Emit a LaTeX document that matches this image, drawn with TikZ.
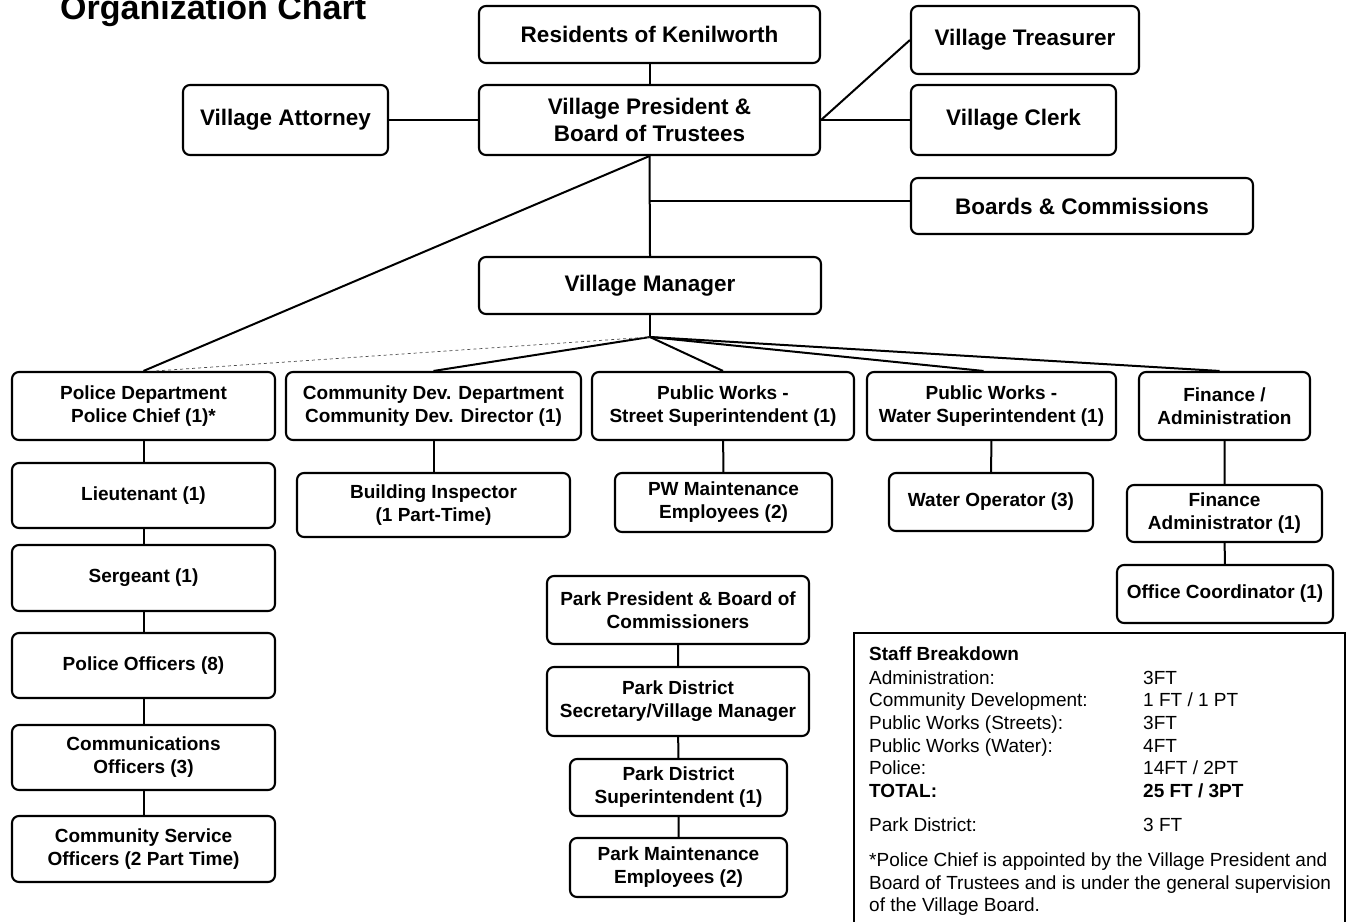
\documentclass[tikz,border=0pt]{standalone}
\usepackage{fontspec}
\setmainfont{Liberation Sans}
\begin{document}
\begin{tikzpicture}[x=1pt,y=-1pt,
  box/.style={draw, rounded corners=7pt, line width=2.1pt, align=center, inner sep=0pt, font=\bfseries\fontsize{19}{23}\selectfont},
  bigbox/.style={box, font=\bfseries\fontsize{22.5}{27}\selectfont},
  sz/.style 2 args={minimum width=#1pt, minimum height=#2pt},
  conn/.style={line width=2pt},
  stafftxt/.style={anchor=base west, inner sep=0pt, font=\fontsize{19}{23}\selectfont},
  staffbold/.style={stafftxt, font=\bfseries\fontsize{19}{23}\selectfont}]
\useasboundingbox (0,0) rectangle (1351,921);

% title
\node[anchor=base west, inner sep=0pt, font=\bfseries\fontsize{34}{40}\selectfont] (title) at (60,19) {Organization Chart};

% top level
\node[bigbox, sz={341}{57}] (res) at (649.5,34.5) {Residents of Kenilworth};
\node[bigbox, sz={341}{70}] (vp) at (649.5,120) {Village President \&\\Board of Trustees};
\node[bigbox, sz={205}{70}] (att) at (285.5,120) {Village Attorney};
\node[bigbox, sz={228}{68}] (treas) at (1025,40) {Village Treasurer};
\node[bigbox, sz={205}{70}] (clerk) at (1013.5,120) {Village Clerk};
\node[bigbox, sz={342}{56}] (boards) at (1082,206) {Boards \& Commissions};
\node[bigbox, sz={342}{57}] (vm) at (650,285.5) {Village Manager};

% departments
\node[box, sz={263}{68}] (police) at (143.5,406) {Police Department\\Police Chief (1)*};
\node[box, sz={295}{68}] (comdev) at (433.5,406) {Community Dev. Department\\Community Dev. Director (1)};
\node[box, sz={262}{68}] (street) at (723,406) {Public Works -\\Street Superintendent (1)};
\node[box, sz={249}{68}] (water) at (991.5,406) {Public Works -\\Water Superintendent (1)};
\node[box, sz={171}{68}] (fin) at (1224.5,406) {Finance /\\Administration};

% police column
\node[box, sz={263}{65}] (lt) at (143.5,495.5) {Lieutenant (1)};
\node[box, sz={263}{66}] (sgt) at (143.5,578) {Sergeant (1)};
\node[box, sz={263}{65}] (po) at (143.5,665.5) {Police Officers (8)};
\node[box, sz={263}{65}] (comm) at (143.5,757.5) {Communications\\Officers (3)};
\node[box, sz={263}{66}] (cso) at (143.5,849) {Community Service\\Officers (2 Part Time)};

% other subordinates
\node[box, sz={273}{64}] (bi) at (433.5,505) {Building Inspector\\(1 Part-Time)};
\node[box, sz={217}{59}] (pwm) at (723.5,502.5) {PW Maintenance\\Employees (2)};
\node[box, sz={204}{58}] (wo) at (991,502) {Water Operator (3)};
\node[box, sz={195}{57}] (fa) at (1224.5,513.5) {Finance\\Administrator (1)};
\node[box, sz={216}{58}] (oc) at (1225,594) {Office Coordinator (1)};

% park district
\node[box, sz={262}{68}] (ppb) at (678,610) {Park President \& Board of\\Commissioners};
\node[box, sz={262}{69}] (pds) at (678,701.5) {Park District\\Secretary/Village Manager};
\node[box, sz={217}{57}] (pdsup) at (678.5,787.5) {Park District\\Superintendent (1)};
\node[box, sz={217}{59}] (pme) at (678.5,867.5) {Park Maintenance\\Employees (2)};

% connectors top
\draw[conn] (res.south) -- (vp.north);
\draw[conn] (att.east) -- (vp.west);
\draw[conn] (vp.east) -- (clerk.west);
\draw[conn] (vp.east) -- (treas.west);
\draw[conn] (vp.south) -- (vm.north);
\draw[conn] ([yshift=5pt]boards.west) -- ([yshift=5pt]boards.west -| vp.south);
\draw[conn] (vp.south) -- (police.north);

% fan from manager
\coordinate (fan) at (650,337);
\draw[conn] (vm.south) -- (fan);
\draw[conn] (fan) -- (comdev.north);
\draw[conn] (fan) -- (street.north);
\draw[conn] (fan) -- ([xshift=-8pt]water.north);
\draw[conn] (fan) -- ([xshift=-5pt]fin.north);
\draw[line width=0.7pt, dashed, black!70] (fan) -- ([xshift=12pt]police.north);

% chains
\draw[conn] (police) -- (lt) -- (sgt) -- (po) -- (comm) -- (cso);
\draw[conn] (comdev) -- (bi);
\draw[conn] (street) -- (pwm);
\draw[conn] (water) -- (wo);
\draw[conn] (fin) -- (fa) -- (oc);
\draw[conn] (ppb) -- (pds) -- (pdsup) -- (pme);

% staff breakdown box
\draw[line width=2.4pt] (854,925) -- (854,633) -- (1345,633) -- (1345,925);
\node[staffbold] (sh) at (869,660) {Staff Breakdown};
\node[stafftxt] (l1) at (869,684) {Administration:};
\node[stafftxt] (v1) at (1143,684) {3FT};
\node[stafftxt] (l2) at (869,706) {Community Development:};
\node[stafftxt] (v2) at (1143,706) {1 FT / 1 PT};
\node[stafftxt] (l3) at (869,729) {Public Works (Streets):};
\node[stafftxt] (v3) at (1143,729) {3FT};
\node[stafftxt] (l4) at (869,752) {Public Works (Water):};
\node[stafftxt] (v4) at (1143,752) {4FT};
\node[stafftxt] (l5) at (869,774) {Police:};
\node[stafftxt] (v5) at (1143,774) {14FT / 2PT};
\node[staffbold] (l6) at (869,797) {TOTAL:};
\node[staffbold] (v6) at (1143,797) {25 FT / 3PT};
\node[stafftxt] (l7) at (869,831) {Park District:};
\node[stafftxt] (v7) at (1143,831) {3 FT};
\node[stafftxt] (f1) at (869,866) {*Police Chief is appointed by the Village President and};
\node[stafftxt] (f2) at (869,889) {Board of Trustees and is under the general supervision};
\node[stafftxt] (f3) at (869,911) {of the Village Board.};
\end{tikzpicture}
\end{document}
